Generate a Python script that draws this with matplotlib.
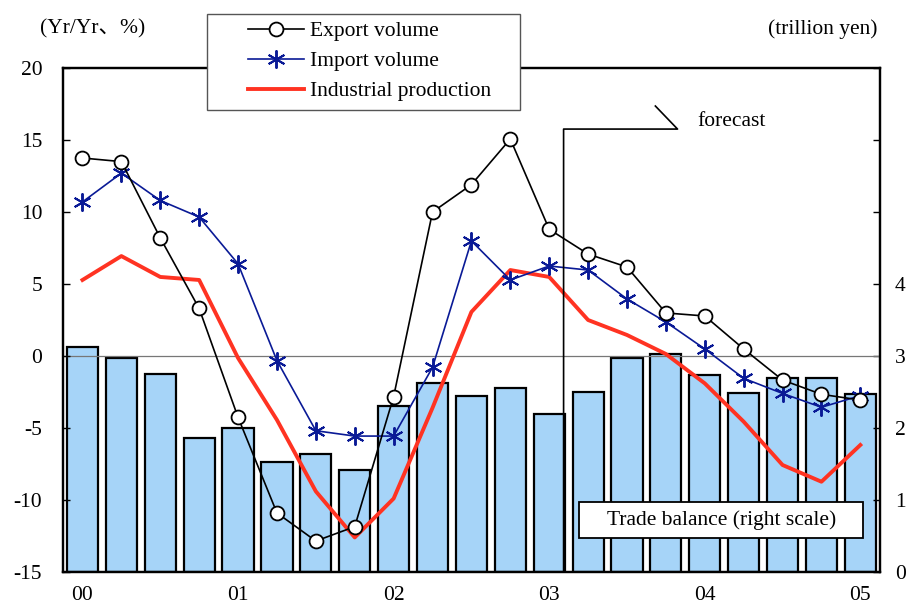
import matplotlib.pyplot as plt
from matplotlib.patches import Rectangle

plt.rcParams['font.family'] = ['Liberation Serif', 'Noto Sans CJK JP', 'DejaVu Sans']
plt.rcParams['axes.unicode_minus'] = False

# quarterly, 2000 Q1 .. 2005 Q1
quarters = list(range(21))
year_ticks = [0, 4, 8, 12, 16, 20]
year_labels = ['00', '01', '02', '03', '04', '05']

export_volume = [13.75, 13.5, 8.2, 3.3, -4.26, -10.9, -12.85, -11.85, -2.82, 10.0, 11.9,
                 15.07, 8.8, 7.08, 6.18, 2.99, 2.78, 0.49, -1.67, -2.66, -3.06]
import_volume = [10.7, 12.7, 10.8, 9.65, 6.4, -0.32, -5.19, -5.56, -5.56, -0.79, 7.99,
                 5.28, 6.25, 5.97, 3.96, 2.36, 0.49, -1.55, -2.6, -3.56, -2.75]
industrial = [5.28, 6.94, 5.49, 5.28, -0.14, -4.44, -9.4, -12.6, -9.9, -3.6, 3.06,
              5.97, 5.49, 2.5, 1.46, 0.14, -1.9, -4.56, -7.57, -8.73, -6.18]
trade_balance = [3.12, 2.97, 2.75, 1.86, 2.0, 1.53, 1.64, 1.42, 2.31, 2.62, 2.44,
                 2.56, 2.19, 2.5, 2.97, 3.03, 2.73, 2.48, 2.69, 2.69, 2.47]

FS = 15.5

fig = plt.figure(figsize=(9.07, 6.10), dpi=100)
ax = fig.add_axes([0.0695, 0.0623, 0.9005, 0.8262])
ax2 = ax.twinx()
ax.set_zorder(ax2.get_zorder() + 1)
ax.patch.set_visible(False)

# bars on the right scale
ax2.bar(quarters, trade_balance, width=0.8, color='#A6D4F8', edgecolor='black', linewidth=1.6)
ax2.set_ylim(0, 7)
ax2.set_yticks(range(8))
ax2.set_yticklabels(['0', '1', '2', '3', '4', '', '', ''])

ax.axhline(0, color='#777777', linewidth=0.9, zorder=1)
ax.plot(quarters, industrial, color='#FF3322', linewidth=2.8, label='Industrial production', zorder=3)
ax.plot(quarters, import_volume, color='#0A1A96', linewidth=1.2, marker=(6, 2, 0),
        markersize=13, markeredgewidth=1.4, label='Import volume', zorder=4)
ax.plot(quarters, export_volume, color='black', linewidth=1.2, marker='o', markersize=10,
        markerfacecolor='white', markeredgewidth=1.3, label='Export volume', zorder=5)

ax.set_xlim(-0.5, 20.5)
ax.set_ylim(-15, 20)
ax.set_yticks(range(-15, 21, 5))
ax.set_xticks(year_ticks)
ax.set_xticklabels(year_labels)

ax.tick_params(axis='y', direction='in', length=5, width=1, labelsize=FS, pad=15)
ax.tick_params(axis='x', length=0, labelsize=FS, pad=10)
ax2.tick_params(axis='y', direction='in', length=5, width=1, labelsize=FS, pad=11)
for a in (ax, ax2):
    for s in a.spines.values():
        s.set_linewidth(1.6)

# forecast bracket
ax.plot([12.37, 12.37, 15.3, 14.73], [-15, 15.76, 15.76, 17.36], color='black', linewidth=1.2,
        zorder=6, clip_on=False)
ax.text(15.8, 16.3, 'forecast', fontsize=FS, va='center', ha='left')

# trade balance label box
ax.add_patch(Rectangle((0.632, 0.0675), 0.348, 0.071, transform=ax.transAxes,
                       facecolor='white', edgecolor='black', linewidth=1.3, zorder=7))
ax.text(0.806, 0.103, 'Trade balance (right scale)', transform=ax.transAxes, fontsize=FS,
        ha='center', va='center', zorder=8)

fig.text(0.044, 0.952, '(Yr/Yr、%)', fontsize=FS, ha='left', va='center')
fig.text(0.968, 0.952, '(trillion yen)', fontsize=FS, ha='right', va='center')

# legend: white box plus frameless legend on top
fig.patches.append(Rectangle((207 / 907, 1 - 110 / 610), 313 / 907, 96 / 610,
                             transform=fig.transFigure, facecolor='white',
                             edgecolor='#555555', linewidth=1.0, zorder=19))
handles, labels = ax.get_legend_handles_labels()
order = [2, 1, 0]
leg = fig.legend([handles[i] for i in order], [labels[i] for i in order],
                 loc='upper left', bbox_to_anchor=(248 / 907, 1 - 21 / 610), fontsize=FS,
                 handlelength=2.6, labelspacing=0.47, borderpad=0, borderaxespad=0,
                 handletextpad=0.3, frameon=False)
leg.set_zorder(20)

fig.savefig('out.png', dpi=100)
